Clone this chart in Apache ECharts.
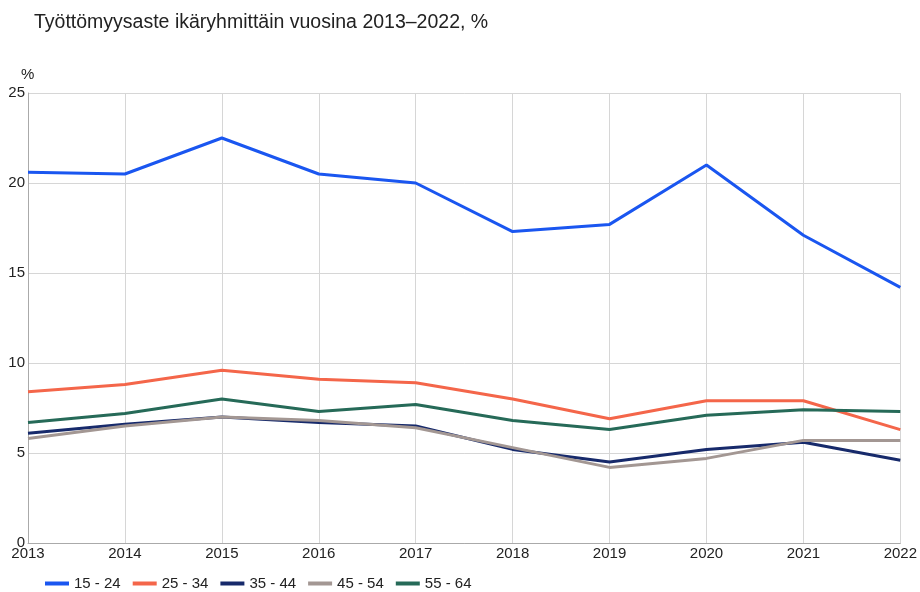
<!DOCTYPE html>
<html><head><meta charset="utf-8">
<script src="https://cdn.jsdelivr.net/npm/echarts@6/dist/echarts.min.js"></script>
<style>html,body{margin:0;padding:0;background:#fff}#c{width:920px;height:592px}</style>
</head><body><div id="c"></div>
<script>
const years = ['2013','2014','2015','2016','2017','2018','2019','2020','2021','2022'];
const s15_24 = [20.6,20.5,22.5,20.5,20.0,17.3,17.7,21.0,17.1,14.2];
const s25_34 = [8.4,8.8,9.6,9.1,8.9,8.0,6.9,7.9,7.9,6.3];
const s35_44 = [6.1,6.6,7.0,6.7,6.5,5.2,4.5,5.2,5.6,4.6];
const s45_54 = [5.8,6.5,7.0,6.8,6.4,5.3,4.2,4.7,5.7,5.7];
const s55_64 = [6.7,7.2,8.0,7.3,7.7,6.8,6.3,7.1,7.4,7.3];
const names = ['15 - 24','25 - 34','35 - 44','45 - 54','55 - 64'];
const colors = ['#1a56f0','#f4664a','#172a6b','#a39793','#266a58'];
const data = [s15_24,s25_34,s35_44,s45_54,s55_64];
const font = 'Arial, "Liberation Sans", sans-serif';
const chart = echarts.init(document.getElementById('c'));
chart.setOption({
  animation:false,
  title:{text:'Työttömyysaste ikäryhmittäin vuosina 2013–2022, %',left:29,top:8,
    textStyle:{fontFamily:font,fontSize:19.5,fontWeight:'normal',color:'#222'}},
  grid:{left:28,right:17,top:93,bottom:49},
  legend:{left:40,top:571,itemWidth:24,itemHeight:4,itemGap:12,
    icon:'rect',textStyle:{fontFamily:font,fontSize:15,color:'#222'},
    data:names},
  xAxis:{type:'category',data:years,boundaryGap:false,
    axisLine:{lineStyle:{color:'#aaa'}},axisTick:{show:false},
    axisLabel:{fontFamily:font,fontSize:15,color:'#222',margin:3},
    splitLine:{show:true,lineStyle:{color:'#d6d6d6'}}},
  yAxis:{type:'value',min:0,max:25,interval:5,name:'%',nameLocation:'end',nameGap:11,
    nameTextStyle:{fontFamily:font,fontSize:15,color:'#222',align:'left',padding:[0,0,0,-7]},
    axisLine:{show:true,lineStyle:{color:'#aaa'}},axisTick:{show:false},
    axisLabel:{fontFamily:font,fontSize:15,color:'#222',margin:3},
    splitLine:{lineStyle:{color:'#d6d6d6'}}},
  series:data.map((d,i)=>({name:names[i],type:'line',data:d,symbol:'none',
    lineStyle:{width:3,color:colors[i]},itemStyle:{color:colors[i]}}))
});
</script></body></html>
